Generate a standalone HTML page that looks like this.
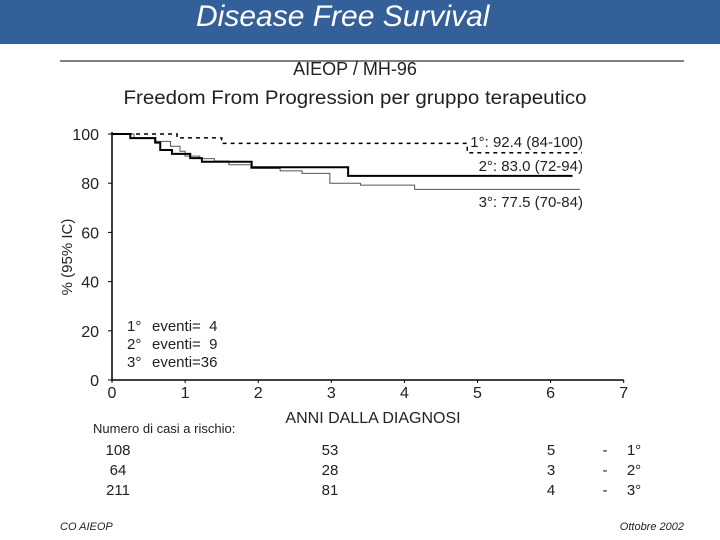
<!DOCTYPE html>
<html><head><meta charset="utf-8"><style>
body{margin:0;width:720px;height:540px;background:#fff;overflow:hidden;font-family:"Liberation Sans",sans-serif;position:relative}
.bar{position:absolute;left:0;top:0;width:720px;height:44px;background:#34609a}
.bar span{position:absolute;left:196px;top:0px;color:#fff;font-style:italic;font-size:30px}
svg{position:absolute;left:0;top:0}
</style></head><body>
<div class="bar"><span>Disease Free Survival</span></div>
<svg id="c" width="720" height="540"></svg>
<script>
const xTicks=[0,1,2,3,4,5,6,7];
const yTicks=[0,20,40,60,80,100];
const s1x=[0,0.89,0.93,1.5,4.86,6.43];
const s1y=[100,98.4,98.4,96.2,92.4,92.4];
const s2x=[0,0.25,0.59,0.66,0.82,1.07,1.23,1.91,3.23,6.3];
const s2y=[100,98.3,96.5,93.5,91.9,90.2,88.7,86.5,83.0,83.0];
const s3x=[0,0.3,0.6,0.8,0.93,1.0,1.2,1.4,1.6,1.9,2.3,2.6,2.98,3.4,4.14,6.4];
const s3y=[100,98.5,97,95,93,91,90,89,87.5,86,85,84,80,79.2,77.5,77.5];
const riskRows=[["108","53","5","1°"],["64","28","3","2°"],["211","81","4","3°"]];
const labels=["1°: 92.4 (84-100)","2°: 83.0 (72-94)","3°: 77.5 (70-84)"];
const evGroups=["1°","2°","3°"];
const evCounts=["eventi=  4","eventi=  9","eventi=36"];
const svg=document.getElementById('c');const NS='http://www.w3.org/2000/svg';
const X=v=>112+v*73.1, Y=v=>380-v*2.46;
function mk(t,a,txt){const e=document.createElementNS(NS,t);for(const k in a)e.setAttribute(k,a[k]);if(txt!=null)e.textContent=txt;svg.appendChild(e);return e;}
let e;
e=mk('line',{x1:60,y1:61,x2:684,y2:61,stroke:'#000','stroke-width':1});

e=mk('text',{x:355,y:75,'font-size':18,'text-anchor':'middle',fill:'#222'},'AIEOP / MH-96');

e=mk('text',{x:355,y:104,'font-size':19,'text-anchor':'middle',fill:'#222',textLength:463,lengthAdjust:'spacingAndGlyphs'},'Freedom From Progression per gruppo terapeutico');

e=mk('path',{d:`M${X(0)} ${Y(100)-2}V${Y(0)}H${X(7)}`,fill:'none',stroke:'#000','stroke-width':1.5});

yTicks.forEach(t=>{e=mk('line',{x1:X(0)-4,x2:X(0),y1:Y(t),y2:Y(t),stroke:'#000'});

e=mk('text',{x:99,y:Y(t)+6,'font-size':16,'text-anchor':'end',fill:'#222'},t);
});
xTicks.forEach(t=>{e=mk('line',{x1:X(t),x2:X(t),y1:Y(0),y2:Y(0)+3,stroke:'#000'});

e=mk('text',{x:X(t),y:398,'font-size':16,'text-anchor':'middle',fill:'#222'},t);
});
e=mk('text',{x:72,y:257,'font-size':15,'text-anchor':'middle',fill:'#222',transform:'rotate(-90 72 257)'},'% (95% IC)');

e=mk('text',{x:373,y:423,'font-size':16,'text-anchor':'middle',fill:'#222'},'ANNI DALLA DIAGNOSI');

function step(xs,ys){let d=`M${X(xs[0])} ${Y(ys[0])}`;for(let i=1;i<xs.length;i++){d+=`H${X(xs[i])}V${Y(ys[i])}`;}return d;}
e=mk('path',{d:step(s3x,s3y),fill:'none',stroke:'#555','stroke-width':1});

e=mk('path',{d:step(s2x,s2y),fill:'none',stroke:'#000','stroke-width':2});

e=mk('path',{d:step(s1x,s1y),fill:'none',stroke:'#000','stroke-width':1.5,'stroke-dasharray':'4 4'});

[147,171,207].forEach((y,i)=>{e=mk('text',{x:583,y:y,'font-size':15,'text-anchor':'end',fill:'#222'},labels[i]);
});
evGroups.forEach((g,i)=>{const y=331+i*18;
e=mk('text',{x:127,y:y,'font-size':15,fill:'#222'},g);

e=mk('text',{x:152,y:y,'font-size':15,fill:'#222','xml:space':'preserve',style:'white-space:pre'},evCounts[i]);
});
e=mk('text',{x:93,y:433,'font-size':13,fill:'#222'},'Numero di casi a rischio:');

riskRows.forEach((r,i)=>{const y=455+i*20;
[[118,r[0]],[330,r[1]],[551,r[2]],[605,'-'],[634,r[3]]].forEach(([x,t])=>{e=mk('text',{x:x,y:y,'font-size':15,'text-anchor':'middle',fill:'#222'},t);
});});
e=mk('text',{x:60,y:530,'font-size':11,'font-style':'italic',fill:'#222'},'CO AIEOP');

e=mk('text',{x:684,y:530,'font-size':11,'font-style':'italic',fill:'#222','text-anchor':'end'},'Ottobre 2002');

</script>
</body></html>
